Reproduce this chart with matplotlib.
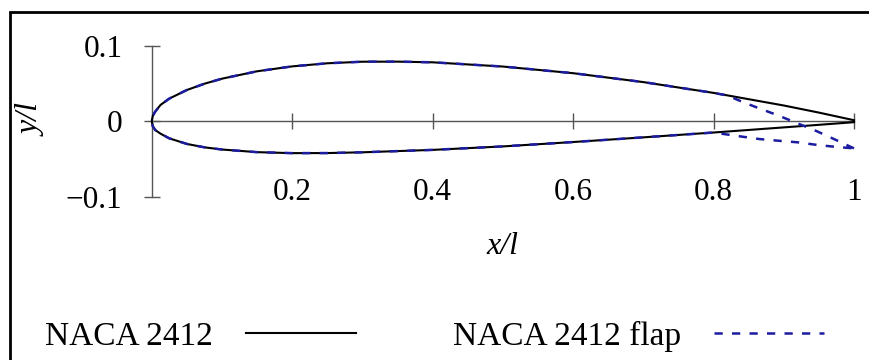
import matplotlib
matplotlib.use("Agg")
import matplotlib.pyplot as plt
from matplotlib.patches import Rectangle

plt.rcParams['font.family'] = ['Liberation Serif', 'DejaVu Serif']

# NACA 2412 contour (upper: trailing edge -> nose, lower: nose -> trailing edge)
x_upper = [1.0, 0.95, 0.9, 0.8, 0.7, 0.6, 0.5, 0.4, 0.35, 0.3, 0.25, 0.2, 0.15, 0.1,
           0.075, 0.05, 0.025, 0.0125, 0.005, 0.0015, 0.0]
y_upper = [0.0013, 0.0114, 0.0208, 0.0375, 0.0518, 0.0636, 0.0724, 0.0780, 0.0789, 0.0788,
           0.0767, 0.0726, 0.0661, 0.0563, 0.0496, 0.0413, 0.0299, 0.0215, 0.0127, 0.0069, 0.0]
x_lower = [0.0, 0.0015, 0.005, 0.0125, 0.025, 0.05, 0.075, 0.1, 0.15, 0.2, 0.25, 0.3,
           0.4, 0.5, 0.6, 0.7, 0.8, 0.9, 0.95, 1.0]
y_lower = [0.0, -0.0066, -0.0117, -0.0165, -0.0227, -0.0301, -0.0346, -0.0375, -0.0410,
           -0.0423, -0.0422, -0.0412, -0.0380, -0.0334, -0.0276, -0.0214, -0.0150,
           -0.0082, -0.0048, -0.0013]

# flapped part (aft of x = 0.8), the rest follows the plain profile
flap_x_upper = [1.0, 0.97, 0.944, 0.92, 0.891, 0.865, 0.84, 0.82]
flap_y_upper = [-0.036, -0.023, -0.012, -0.003, 0.008, 0.017, 0.026, 0.034]
flap_x_lower = [0.834, 0.865, 0.894, 0.92, 0.948, 0.974, 1.0]
flap_y_lower = [-0.0196, -0.0236, -0.026, -0.028, -0.0315, -0.034, -0.036]

x_ticks = [0.2, 0.4, 0.6, 0.8, 1.0]
x_ticklabels = ['0.2', '0.4', '0.6', '0.8', '1']
y_ticks = [-0.1, 0.0, 0.1]
y_ticklabels = ['\u22120.1', '0', '0.1']

base_x = x_upper + x_lower
base_y = y_upper + y_lower
n_up = x_upper.index(0.8)
n_lo = x_lower.index(0.8) + 1
flap_x = flap_x_upper + x_upper[n_up:] + x_lower[:n_lo] + flap_x_lower
flap_y = flap_y_upper + y_upper[n_up:] + y_lower[:n_lo] + flap_y_lower

fig = plt.figure(figsize=(8.69, 3.6), dpi=100)
ax = fig.add_axes([151.7 / 869, (360 - 196.7) / 360, 702.3 / 869, 151.0 / 360])

axcol = '#555555'
ax.plot(base_x, base_y, color='black', lw=1.5, label='NACA 2412', zorder=3)
ax.plot(flap_x, flap_y, color='#1c1ca0', lw=1.8, dashes=(3.3, 3.7), label='NACA 2412 flap', zorder=4)

ax.set_xlim(0, 1)
ax.set_ylim(-0.1, 0.1)
for s in ['top', 'right']:
    ax.spines[s].set_visible(False)
ax.spines['left'].set_position(('data', 0))
ax.spines['bottom'].set_position(('data', 0))
for s in ['left', 'bottom']:
    ax.spines[s].set_color(axcol)
    ax.spines[s].set_linewidth(1.0)
    ax.spines[s].set_zorder(2)

ax.set_xticks(x_ticks)
ax.set_xticklabels(x_ticklabels)
ax.set_yticks(y_ticks)
ax.set_yticklabels(y_ticklabels)
ax.tick_params(axis='both', direction='inout', length=12, width=1.0, color=axcol,
               labelsize=22.5, labelcolor='black')
ax.tick_params(axis='x', pad=35)
ax.tick_params(axis='y', pad=15)
ax.patch.set_visible(False)
for ln in ax.get_lines():
    ln.set_clip_on(False)

fig.text(502 / 869, 1 - 247 / 360, 'x/l', fontsize=23, fontstyle='italic', ha='center', va='center')
fig.text(32 / 869, 1 - 120 / 360, 'y/l', fontsize=23, fontstyle='italic', rotation=90,
         ha='center', va='center')

fig.legend(loc='center left', bbox_to_anchor=(45 / 869, 24 / 360), ncol=2, frameon=False,
           markerfirst=False, fontsize=24, handlelength=3.3, handletextpad=1.0,
           columnspacing=2.9, borderpad=0, borderaxespad=0)

# frame around the figure (only top and left edges fall inside the picture)
fig.patches.append(Rectangle((10 / 869, -0.5), 2.0, 1 - 11.5 / 360 + 0.5, transform=fig.transFigure,
                             fill=False, edgecolor='black', lw=2.0))

fig.savefig('out.png', dpi=100)
